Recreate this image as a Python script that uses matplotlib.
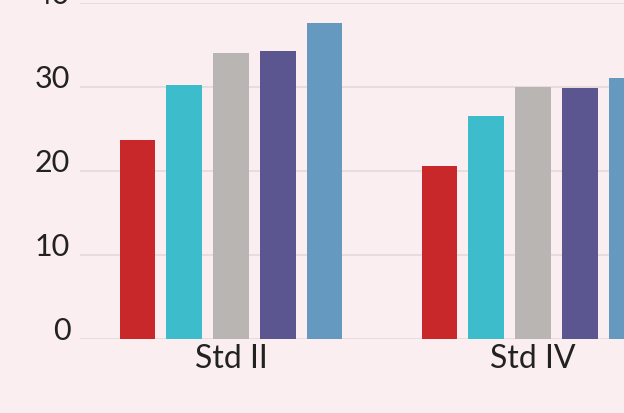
import matplotlib
matplotlib.use("Agg")
import matplotlib.pyplot as plt
import matplotlib.transforms as mtransforms
import numpy as np

categories = ["Std II", "Std IV"]
series_names = ["S1", "S2", "S3", "S4", "S5"]
values = {
    "S1": [23.7, 20.6],
    "S2": [30.2, 26.5],
    "S3": [34.0, 30.0],
    "S4": [34.3, 29.9],
    "S5": [37.6, 31.0],
}
colors = ["#c9282b", "#3dbdcb", "#b9b5b3", "#5b5590", "#6699bf"]
yticks = [0, 10, 20, 30, 40]

bg = "#fbeef0"
fig = plt.figure(figsize=(6.24, 4.14), dpi=100, facecolor=bg)
ax = fig.add_axes([80/624, (414-339.5)/414, 1 - 80/624, (339.5-4)/414])
ax.set_facecolor(bg)

x = np.arange(len(categories))
pitch = 0.1556
width = 0.116
for i, (name, c) in enumerate(zip(series_names, colors)):
    ax.bar(x + (i - 2) * pitch, values[name], width=width, color=c, zorder=3)

ax.set_xlim(-0.5, (624-231)/302)
ax.set_ylim(0, 40)
ax.set_yticks(yticks)
ax.set_xticks(x)
ax.set_xticklabels(categories)
for s in ax.spines.values():
    s.set_visible(False)
ax.grid(axis="y", color="#e6dcdc", linewidth=1.3, zorder=0)
ax.tick_params(axis="both", length=0, colors="#222222")
ax.tick_params(axis="y", pad=7, labelsize=22)
ax.tick_params(axis="x", pad=3, labelsize=23)
offset = mtransforms.ScaledTranslation(0, 11/100, fig.dpi_scale_trans)
for lab in ax.get_yticklabels():
    lab.set_family("Lato")
    lab.set_transform(lab.get_transform() + offset)
for lab in ax.get_xticklabels():
    lab.set_family("Lato")

fig.savefig("out.png", dpi=100, facecolor=bg)
